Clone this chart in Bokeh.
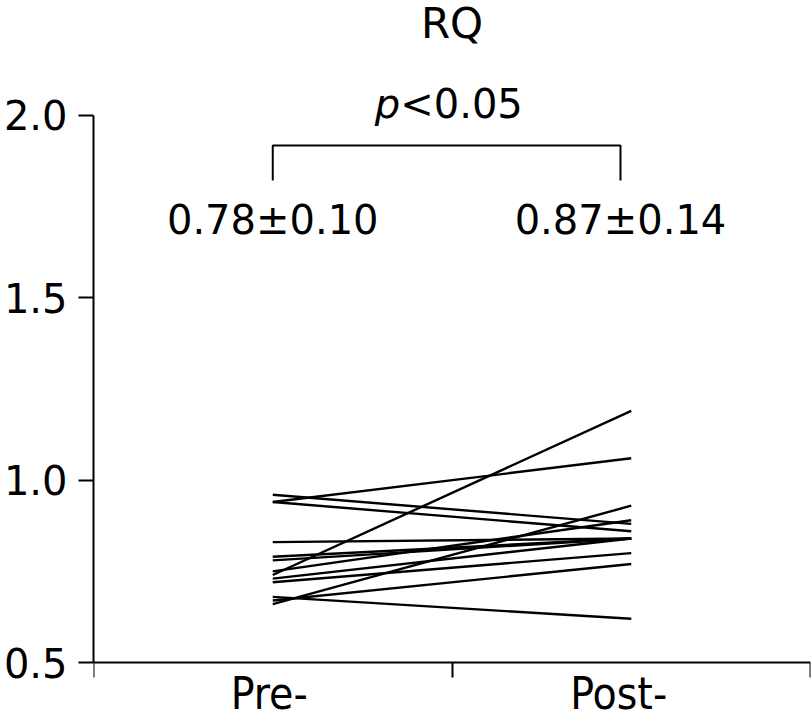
from bokeh.plotting import figure
from bokeh.models import Range1d, FixedTicker
from bokeh.core.properties import value
from bokeh.embed import file_html
from bokeh.resources import INLINE

# ---- data ----
categories = ["Pre-", "Post-"]
pre_rq = [0.96, 0.94, 0.94, 0.74, 0.83, 0.79, 0.78, 0.75, 0.73, 0.72, 0.68, 0.67, 0.66]
post_rq = [0.88, 0.86, 1.06, 1.19, 0.84, 0.84, 0.84, 0.89, 0.84, 0.80, 0.62, 0.77, 0.93]
mean_labels = ["0.78\u00b10.10", "0.87\u00b10.14"]
y_ticks = [0.5, 1.0, 1.5, 2.0]
y_tick_labels = ["0.5", "1.0", "1.5", "2.0"]
title_text = "RQ"
p_italic = "p"
p_rest = "<0.05"

FONT = "DejaVu Sans"

cat_x = [i + 0.5 for i in range(len(categories))]
note_x = [cat_x[0], cat_x[1] - 0.03]

p = figure(width=812, height=722, output_backend="svg", toolbar_location=None,
           x_range=Range1d(0, 2), y_range=Range1d(0.33547, 2.31535),
           min_border_left=90, min_border_right=2, min_border_top=0, min_border_bottom=0)
p.outline_line_color = None
p.xgrid.grid_line_color = None
p.ygrid.grid_line_color = None
p.background_fill_color = "white"
p.border_fill_color = "white"

# x axis, drawn at y = 0.5 inside the frame
p.xaxis.fixed_location = y_ticks[0]
p.xaxis.ticker = FixedTicker(ticks=[0, 1, 2])
p.xaxis.major_label_overrides = {0: "", 1: "", 2: ""}
p.xaxis.major_label_text_font_size = "1px"
p.xaxis.major_tick_out = 15
p.xaxis.major_tick_in = 0
p.xaxis.minor_tick_line_color = None
p.xaxis.axis_line_width = 2
p.xaxis.major_tick_line_width = 2
p.xaxis.axis_line_color = "black"
p.xaxis.major_tick_line_color = "black"

# y axis
p.yaxis.ticker = FixedTicker(ticks=y_ticks)
p.yaxis.major_label_overrides = {t: s for t, s in zip(y_ticks, y_tick_labels)}
p.yaxis.bounds = (y_ticks[0], y_ticks[-1])
p.yaxis.major_tick_out = 15
p.yaxis.major_tick_in = 0
p.yaxis.minor_tick_line_color = None
p.yaxis.axis_line_width = 2
p.yaxis.major_tick_line_width = 2
p.yaxis.axis_line_color = "black"
p.yaxis.major_tick_line_color = "black"
p.yaxis.major_label_text_font = FONT
p.yaxis.major_label_text_font_size = "40px"
p.yaxis.major_label_text_color = "black"
p.yaxis.major_label_standoff = 11

# paired lines
xs = [[cat_x[0], cat_x[1]] for _ in pre_rq]
ys = [[a, b] for a, b in zip(pre_rq, post_rq)]
p.multi_line(xs=xs, ys=ys, line_color="black", line_width=2.4)

# title
p.text(x=[1.0], y=[2.2517], text=[title_text], text_font=value(FONT),
       text_font_size="42px", text_align="center", text_baseline="alphabetic",
       text_color="black")

# significance
p.text(x=[0.8556], y=[2.0302], text=[p_italic], text_font=value(FONT),
       text_font_style="italic", text_font_size="40px", text_align="right",
       text_baseline="alphabetic", text_color="black")
p.text(x=[0.8556], y=[2.0302], text=[p_rest], text_font=value(FONT),
       text_font_size="40px", text_align="left", text_baseline="alphabetic",
       text_color="black")

# bracket
p.line(x=[note_x[0], note_x[0], note_x[1], note_x[1]],
       y=[1.8217, 1.9177, 1.9177, 1.8217], line_color="black", line_width=2)

# mean +- sd
p.text(x=note_x, y=[1.7148, 1.7148], text=mean_labels, text_font=value(FONT),
       text_font_size="40px", text_align="center", text_baseline="alphabetic",
       text_color="black")

# category labels below the axis
label_x = [cat_x[0] - 0.01, cat_x[1] - 0.035]
p.text(x=label_x, y=[0.4139, 0.4139], text=categories,
       text_font=value("DejaVu Sans Condensed"), text_font_size="44px",
       text_align="center", text_baseline="alphabetic", text_color="black")

open("out.html", "w").write(file_html(p, INLINE))
